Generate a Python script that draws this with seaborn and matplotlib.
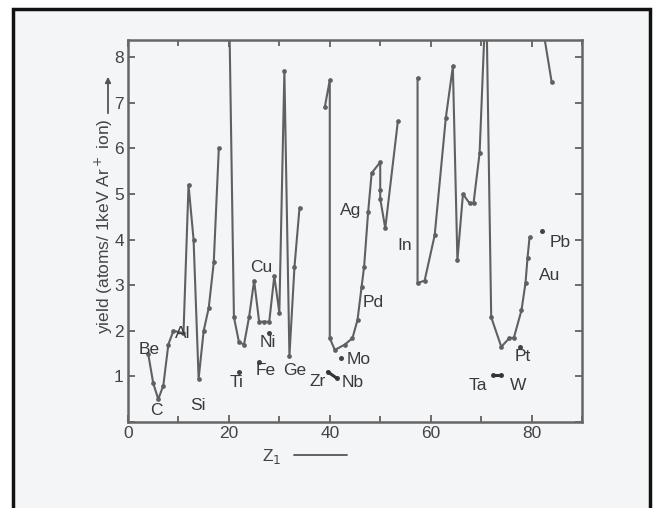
import numpy as np
import pandas as pd
import seaborn as sns
import matplotlib
matplotlib.use("Agg")
import matplotlib.pyplot as plt
from matplotlib.patches import Rectangle, FancyArrowPatch

# ---- data ----
# theoretical curve, split into connected segments
seg1_z = [4, 5, 6, 7, 8, 9, 11, 12, 13, 14, 15, 16, 17, 18]
seg1_v = [1.5, 0.85, 0.5, 0.8, 1.7, 2.0, 1.95, 5.2, 4.0, 0.95, 2.0, 2.5, 3.5, 6.0]
seg2_z = [20, 21, 22, 23, 24, 25, 26, 27, 28, 29, 30, 31, 32, 33, 34]
seg2_v = [9.5, 2.3, 1.75, 1.7, 2.3, 3.1, 2.2, 2.2, 2.2, 3.2, 2.4, 7.7, 1.45, 3.4, 4.7]
seg3_z = [39, 40, 40, 41, 43, 44.5, 45.5, 46.3, 46.8, 47.6, 48.3, 50, 50, 50, 51, 53.5]
seg3_v = [6.9, 7.5, 1.84, 1.58, 1.7, 1.84, 2.24, 2.96, 3.4, 4.6, 5.46, 5.7, 5.1, 4.9, 4.25, 6.6]
seg4_z = [57.4, 57.4, 58.8, 60.8, 63, 64.4, 65.3, 66.4, 67.7, 68.5, 69.7, 71, 72, 74, 75.6, 76.5, 78, 78.8, 79.2, 79.6]
seg4_v = [7.55, 3.05, 3.1, 4.1, 6.67, 7.8, 3.55, 5.0, 4.8, 4.8, 5.9, 9.5, 2.3, 1.65, 1.84, 1.85, 2.45, 3.05, 3.6, 4.05]
seg5_z = [82, 84]
seg5_v = [8.8, 7.45]

# experimental points
exp_names = ["Ti", "Fe", "Ni", "Zr", "Nb", "Mo", "Ta", "W", "Pt", "Pb"]
exp_z = [22, 26, 28, 39.6, 41.4, 42.2, 72.3, 74, 77.8, 82]
exp_v = [1.1, 1.32, 1.95, 1.1, 0.96, 1.4, 1.03, 1.03, 1.64, 4.2]

# element labels (text, position)
lab_text = ["Be", "C", "Al", "Si", "Ti", "Fe", "Ni", "Cu", "Ge", "Zr", "Nb", "Mo",
            "Pd", "Ag", "In", "Ta", "W", "Pt", "Au", "Pb"]
lab_z = [4.2, 5.6, 10.9, 13.9, 21.6, 27.3, 27.8, 26.5, 33.0, 37.6, 44.6, 45.8,
         48.6, 44.2, 54.8, 69.3, 77.4, 78.2, 83.6, 85.6]
lab_v = [1.58, 0.26, 1.95, 0.37, 0.86, 1.14, 1.75, 3.38, 1.12, 0.88, 0.86, 1.38,
         2.63, 4.65, 3.88, 0.81, 0.81, 1.43, 3.22, 3.93]

y_ticks = [0, 1, 2, 3, 4, 5, 6, 7, 8]
x_ticks = [0, 20, 40, 60, 80]

# ---- figure ----
sns.set_theme(style="ticks")
plt.rcParams["font.family"] = ["Liberation Sans", "DejaVu Sans"]
W, H = 656, 508
fig = plt.figure(figsize=(W / 100, H / 100), dpi=100)
fig.patch.set_facecolor("white")

# photo frame in a background axes
bg = fig.add_axes([0, 0, 1, 1], zorder=-5)
bg.set_xlim(0, W)
bg.set_ylim(H, 0)
bg.axis("off")
bg.add_patch(Rectangle((13, 9), 637, 510, facecolor="#f3f5f7", edgecolor="#111111",
                       linewidth=2.5))
bg.add_patch(FancyArrowPatch((108, 116), (108, 74), arrowstyle="-|>", mutation_scale=8,
                             color="#555555", linewidth=1.3))
bg.plot([294, 347], [455, 455], color="#555555", linewidth=1.3)

ax = fig.add_axes([128 / W, 1 - 422 / H, (582 - 128) / W, (422 - 40) / H], zorder=2)
ax.set_facecolor("none")

gray = "#606060"
rows = []
for k, (zz, vv) in enumerate([(seg1_z, seg1_v), (seg2_z, seg2_v), (seg3_z, seg3_v),
                              (seg4_z, seg4_v), (seg5_z, seg5_v)]):
    for a, b in zip(zz, vv):
        rows.append({"z": a, "v": b, "seg": k})
df = pd.DataFrame(rows)
sns.lineplot(data=df, x="z", y="v", units="seg", estimator=None, sort=False,
             color=gray, linewidth=1.5, marker="o", markersize=3.4,
             markeredgewidth=0, ax=ax, legend=False)

dfe = pd.DataFrame({"z": exp_z, "v": exp_v, "name": exp_names})
sns.scatterplot(data=dfe, x="z", y="v", color="#444444", s=13, linewidth=0, ax=ax, legend=False)
# joined pairs Zr-Nb and Ta-W
pair = pd.DataFrame({"z": [exp_z[3], exp_z[4], exp_z[6], exp_z[7]],
                     "v": [exp_v[3], exp_v[4], exp_v[6], exp_v[7]],
                     "p": [0, 0, 1, 1]})
sns.lineplot(data=pair, x="z", y="v", units="p", estimator=None, sort=False,
             color="#333333", linewidth=2.2, ax=ax, legend=False)

for t, a, b in zip(lab_text, lab_z, lab_v):
    ax.text(a, b, t, ha="center", va="center", fontsize=12.5, color="#3a3a3a")

ax.set_xlim(0, 90)
ax.set_ylim(0, 8.38)
ax.set_xticks(x_ticks)
ax.set_xticks(np.arange(0, 91, 10), minor=True)
ax.set_yticks(y_ticks)
ax.set_yticklabels([""] + [str(t) for t in y_ticks[1:]])
ax.tick_params(direction="in", length=5, width=1.2, colors="#555555", labelcolor="#444444",
               labelsize=12.5, top=True, right=True, pad=3)
ax.tick_params(which="minor", direction="in", length=4, width=1.2, colors="#555555",
               top=True, right=True)
ax.set_xlabel("")
ax.set_ylabel("")
for s in ax.spines.values():
    s.set_color("#666666")
    s.set_linewidth(1.8)

# axis titles
fig.text(104 / W, 1 - 226 / H, "yield (atoms/ 1keV Ar$^+$ ion)", rotation=90,
         ha="center", va="center", fontsize=12.5, color="#444444")
fig.text(272 / W, 1 - 456 / H, "Z$_1$", ha="center", va="center", fontsize=12.5, color="#444444")

fig.savefig("out.png", dpi=100, facecolor=fig.get_facecolor())
